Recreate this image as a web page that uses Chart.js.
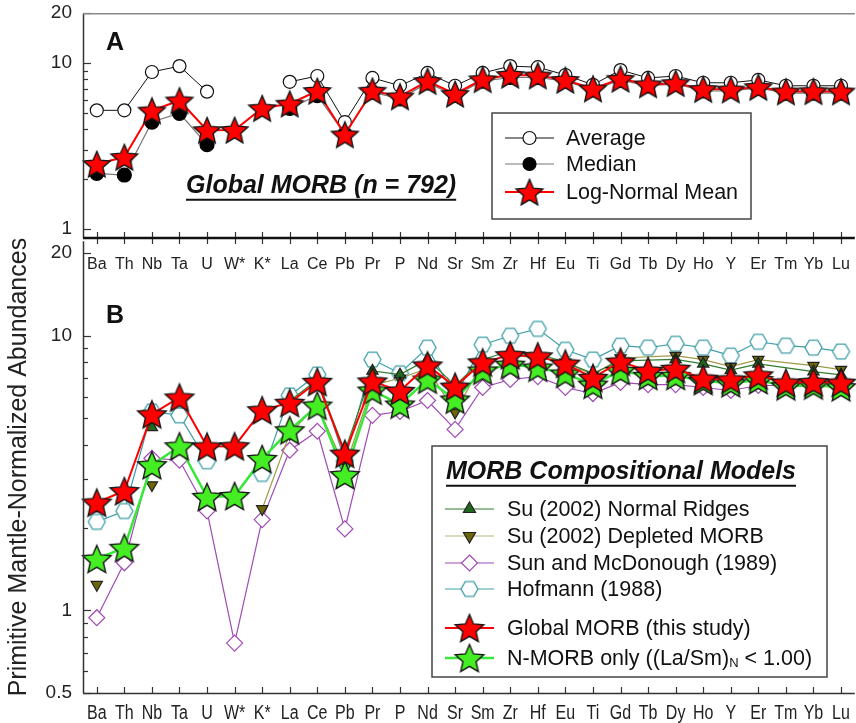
<!DOCTYPE html>
<html>
<head>
<meta charset="utf-8">
<script src="https://cdn.jsdelivr.net/npm/chart.js@4/dist/chart.umd.min.js"></script>
<style>
  html, body { margin: 0; padding: 0; background: #fff; overflow: hidden; }
  #wrap { position: relative; width: 856px; height: 723px; overflow: hidden; }
  canvas { position: absolute; left: 0; }
  #chart-a { top: 0; }
  #chart-b { top: 228px; }
</style>
</head>
<body>
<div id="wrap">
  <canvas id="chart-a" width="868" height="290"></canvas>
  <canvas id="chart-b" width="868" height="495"></canvas>
</div>
<script>
// ─── Data ───────────────────────────────────────────────────

const ELEMENTS = ['Ba', 'Th', 'Nb', 'Ta', 'U', 'W*', 'K*', 'La', 'Ce', 'Pb', 'Pr', 'P', 'Nd', 'Sr',
  'Sm', 'Zr', 'Hf', 'Eu', 'Ti', 'Gd', 'Tb', 'Dy', 'Ho', 'Y', 'Er', 'Tm', 'Yb', 'Lu'];

// Panel A — global MORB statistics
const AVERAGE = [5.20, 5.20, 8.85, 9.60, 6.74, null, null, 7.72, 8.37, 4.42, 8.15, 7.31, 8.73, 7.31,
  8.73, 9.60, 9.46, 8.49, 7.41, 9.09, 8.15, 8.37, 7.62, 7.62, 7.93, 7.31, 7.31, 7.31];
const MEDIAN = [2.17, 2.12, 4.42, 4.99, 3.23, null, null, 5.34, 6.38, 3.75, 6.70, 6.10, 7.60, 6.40,
  7.80, 8.20, 8.20, 7.80, 6.90, 7.90, 7.30, 7.50, 6.80, 6.80, 7.10, 6.60, 6.60, 6.60];
const GLOBAL_MORB = [2.47, 2.72, 5.18, 5.96, 3.95, 3.96, 5.36, 5.70, 6.80, 3.72, 6.82, 6.30, 7.80, 6.53,
  8.00, 8.50, 8.42, 7.92, 7.03, 8.05, 7.45, 7.58, 6.98, 6.93, 7.18, 6.75, 6.78, 6.75];

// Panel B — compositional models
const N_MORB = [1.54, 1.69, 3.38, 3.96, 2.59, 2.61, 3.56, 4.53, 5.57, 3.11, 6.32, 5.62, 6.93, 5.86,
  7.47, 7.85, 7.66, 7.28, 6.64, 7.45, 7.15, 7.15, 6.85, 6.72, 6.90, 6.55, 6.60, 6.50];
const SU_NORMAL = [2.35, null, 4.64, null, null, null, null, 5.80, 6.90, 3.80, 7.45, 7.22, 8.20, 6.60,
  8.20, 8.80, 8.60, 8.00, 7.30, 8.10, null, 8.20, 7.90, 7.50, 7.90, null, 7.40, 7.20];
const SU_DEPLETED = [1.24, null, 2.86, null, null, null, 2.34, 4.40, 5.60, 3.30, 6.60, 7.00, 7.60, 5.26,
  8.00, 8.50, 8.30, 8.00, 7.20, 8.30, null, 8.47, 8.19, 7.72, 8.19, null, 7.78, 7.53];
const SUN_MCDONOUGH = [0.94, 1.49, 3.58, 3.52, 2.30, 0.76, 2.14, 3.83, 4.49, 1.98, 5.13, 5.30, 5.81, 4.56,
  6.48, 6.93, 7.10, 6.48, 6.16, 6.76, 6.64, 6.64, 6.48, 6.32, 6.59, 6.60, 6.85, 6.70];
const HOFMANN = [2.10, 2.30, 5.30, 5.13, 3.49, null, 3.14, 6.06, 7.22, 3.50, 8.19, 7.30, 9.05, 6.00,
  9.28, 10.0, 10.6, 8.89, 8.19, 9.20, 9.05, 9.35, 9.05, 8.47, 9.51, 9.20, 9.05, 8.76];

// Axis ticks
const TICKS_A = [1, 2, 3, 4, 5, 6, 7, 8, 9, 10, 20];
const LABELS_A = [1, 10, 20];
const TICKS_B = [0.5, 0.6, 0.7, 0.8, 0.9, 1, 2, 3, 4, 5, 6, 7, 8, 9, 10, 20];
const LABELS_B = [0.5, 1, 10, 20];

// ─── Markers ────────────────────────────────────────────────

const FONT = '"Liberation Sans", Arial, sans-serif';
const LEGEND_SIZE = 21.5;

function makeStar(fill, R) {
  const size = Math.ceil(R * 2 + 4);
  const c = document.createElement('canvas');
  c.width = c.height = size;
  const g = c.getContext('2d');
  g.translate(size / 2, size / 2 + R * 0.1);
  g.beginPath();
  for (let i = 0; i < 10; i++) {
    const rad = i % 2 ? R * 0.46 : R;
    const a = -Math.PI / 2 + i * Math.PI / 5;
    g.lineTo(rad * Math.cos(a), rad * Math.sin(a));
  }
  g.closePath();
  g.fillStyle = fill;
  g.fill();
  g.strokeStyle = '#151515';
  g.lineWidth = 1.4;
  g.stroke();
  return c;
}

function makeHexagon(stroke, R) {
  const size = Math.ceil(R * 2 + 4);
  const c = document.createElement('canvas');
  c.width = c.height = size;
  const g = c.getContext('2d');
  g.translate(size / 2, size / 2);
  g.beginPath();
  for (let i = 0; i < 6; i++) {
    const a = i * Math.PI / 3;
    g.lineTo(R * Math.cos(a), R * Math.sin(a));
  }
  g.closePath();
  g.fillStyle = '#fff';
  g.fill();
  g.strokeStyle = stroke;
  g.lineWidth = 1.3;
  g.stroke();
  return c;
}

const RED_STAR_A = makeStar('#ff0000', 14);
const RED_STAR_B = makeStar('#ff0000', 15);
const GREEN_STAR = makeStar('#44ee22', 15);
const HEXAGON = makeHexagon('#3f9fa7', 8.5);

const C_SU_N = '#2f7d2f';
const C_SU_D = '#9f9b4a';
const C_SM = '#a04cb4';
const C_HOF = '#3f9fa7';
const C_NMORB = '#38e838';

function legendMarker(ctx, m, x, y) {
  if (m.image) {
    ctx.drawImage(m.image, x - m.image.width / 2, y - m.image.height / 2);
    return;
  }
  const r = m.r;
  ctx.save();
  ctx.fillStyle = m.fill;
  ctx.strokeStyle = m.stroke;
  ctx.lineWidth = 1.2;
  ctx.beginPath();
  if (m.shape === 'circle') ctx.arc(x, y, r, 0, Math.PI * 2);
  if (m.shape === 'up') { ctx.moveTo(x, y - r); ctx.lineTo(x + r * 0.866, y + r / 2); ctx.lineTo(x - r * 0.866, y + r / 2); }
  if (m.shape === 'down') { ctx.moveTo(x, y + r); ctx.lineTo(x + r * 0.866, y - r / 2); ctx.lineTo(x - r * 0.866, y - r / 2); }
  if (m.shape === 'diamond') { ctx.moveTo(x, y - r); ctx.lineTo(x + r, y); ctx.lineTo(x, y + r); ctx.lineTo(x - r, y); }
  ctx.closePath();
  ctx.fill();
  ctx.stroke();
  ctx.restore();
}

function drawLegendRow(ctx, item, y, x0, x1, textX) {
  ctx.save();
  ctx.strokeStyle = item.line;
  ctx.lineWidth = item.lw;
  ctx.beginPath();
  ctx.moveTo(x0, y);
  ctx.lineTo(x1, y);
  ctx.stroke();
  ctx.restore();
  legendMarker(ctx, item.marker, (x0 + x1) / 2, y);
  ctx.fillStyle = '#111';
  ctx.font = `${LEGEND_SIZE}px ${FONT}`;
  ctx.textBaseline = 'middle';
  ctx.textAlign = 'left';
  ctx.fillText(item.text, textX, y + 1);
}

function underlinedTitle(ctx, text, x, y, size) {
  ctx.fillStyle = '#111';
  ctx.font = `italic bold ${size}px ${FONT}`;
  ctx.textBaseline = 'middle';
  ctx.textAlign = 'left';
  ctx.fillText(text, x, y);
  const w = ctx.measureText(text).width;
  ctx.strokeStyle = '#111';
  ctx.lineWidth = 2;
  ctx.beginPath();
  ctx.moveTo(x, y + size * 0.55);
  ctx.lineTo(x + w, y + size * 0.55);
  ctx.stroke();
}

// ─── Frame / ticks ──────────────────────────────────────────

function drawFrame(chart, labeled, xUp, xDown) {
  const { ctx, chartArea: a, scales } = chart;
  const y = scales.y;
  const x = scales.x;
  ctx.save();
  ctx.strokeStyle = '#333';
  ctx.lineWidth = 1.2;
  y.ticks.forEach(t => {
    const py = Math.round(y.getPixelForValue(t.value)) + 0.5;
    const len = labeled.includes(t.value) ? 8 : 5;
    ctx.beginPath();
    ctx.moveTo(a.left, py);
    ctx.lineTo(a.left + len, py);
    ctx.stroke();
  });
  ELEMENTS.forEach((e, i) => {
    const px = Math.round(x.getPixelForValue(i)) + 0.5;
    ctx.beginPath();
    ctx.moveTo(px, a.bottom - xUp);
    ctx.lineTo(px, a.bottom + xDown);
    ctx.stroke();
  });
  ctx.lineWidth = 1.5;
  ctx.beginPath();
  ctx.moveTo(a.left + 0.5, a.top);
  ctx.lineTo(a.left + 0.5, a.bottom);
  ctx.stroke();
  ctx.restore();
}

const decorA = {
  id: 'decorA',
  afterDraw(chart) {
    const { ctx, chartArea: a } = chart;
    drawFrame(chart, LABELS_A, 6, 6);
    ctx.save();
    ctx.strokeStyle = '#888';
    ctx.lineWidth = 1.5;
    ctx.beginPath();
    ctx.moveTo(a.left, a.top + 0.5);
    ctx.lineTo(a.right, a.top + 0.5);
    ctx.stroke();
    ctx.strokeStyle = '#111';
    ctx.lineWidth = 2.5;
    ctx.beginPath();
    ctx.moveTo(a.left, a.bottom);
    ctx.lineTo(a.right, a.bottom);
    ctx.stroke();

    ctx.fillStyle = '#111';
    ctx.font = `bold 25px ${FONT}`;
    ctx.textBaseline = 'middle';
    ctx.fillText('A', 106, 43);
    underlinedTitle(ctx, 'Global MORB (n = 792)', 186, 186, 25);

    ctx.fillStyle = '#fff';
    ctx.fillRect(492, 113, 259, 106);
    ctx.strokeStyle = '#444';
    ctx.lineWidth = 1.5;
    ctx.strokeRect(492, 113, 259, 106);
    const rows = [
      { text: 'Average', line: '#111', lw: 1, marker: { shape: 'circle', r: 6.5, fill: '#fff', stroke: '#111' } },
      { text: 'Median', line: '#777', lw: 1.2, marker: { shape: 'circle', r: 6.5, fill: '#000', stroke: '#000' } },
      { text: 'Log-Normal Mean', line: '#ff0000', lw: 2, marker: { image: RED_STAR_A } },
    ];
    [138, 164, 192].forEach((yy, i) => drawLegendRow(ctx, rows[i], yy, 505, 554, 566));
    ctx.restore();
  },
};

const decorB = {
  id: 'decorB',
  afterDraw(chart) {
    const { ctx, chartArea: a, scales } = chart;
    drawFrame(chart, LABELS_B, 6, 0);
    ctx.save();
    ctx.strokeStyle = '#333';
    ctx.lineWidth = 1.5;
    ctx.beginPath();
    ctx.moveTo(a.left, a.bottom + 0.5);
    ctx.lineTo(a.right, a.bottom + 0.5);
    ctx.stroke();

    // condensed category labels under panel B
    ctx.fillStyle = '#222';
    ctx.font = `20px ${FONT}`;
    ctx.textAlign = 'center';
    ctx.textBaseline = 'middle';
    ELEMENTS.forEach((e, i) => {
      const px = scales.x.getPixelForValue(i);
      ctx.save();
      ctx.translate(px, a.bottom + 20);
      ctx.scale(0.8, 1);
      ctx.fillText(e, 0, 0);
      ctx.restore();
    });

    // page coordinates from here on
    ctx.translate(0, -228);
    ctx.textAlign = 'left';
    ctx.fillStyle = '#111';
    ctx.font = `bold 25px ${FONT}`;
    ctx.fillText('B', 106, 316);

    const bx = 432, by = 446;
    ctx.fillStyle = '#fff';
    ctx.fillRect(bx, by, 395, 231);
    ctx.strokeStyle = '#444';
    ctx.lineWidth = 1.5;
    ctx.strokeRect(bx, by, 395, 231);
    underlinedTitle(ctx, 'MORB Compositional Models', 446, 472, 25);

    const rows = [
      { text: 'Su (2002) Normal Ridges', line: C_SU_N, lw: 1.2, marker: { shape: 'up', r: 7, fill: '#1f6a1f', stroke: '#222' } },
      { text: 'Su (2002) Depleted MORB', line: '#b9b67a', lw: 1.2, marker: { shape: 'down', r: 7, fill: '#6b6608', stroke: '#222' } },
      { text: 'Sun and McDonough (1989)', line: C_SM, lw: 1.2, marker: { shape: 'diamond', r: 8, fill: '#fff', stroke: C_SM } },
      { text: 'Hofmann (1988)', line: C_HOF, lw: 1.2, marker: { image: HEXAGON } },
      { text: 'Global MORB (this study)', line: '#ff0000', lw: 2, marker: { image: RED_STAR_B } },
    ];
    [509, 536, 563, 589, 628].forEach((yy, i) => drawLegendRow(ctx, rows[i], yy, 445, 494, 507));

    // last row has a subscript
    const ly = 658;
    const head = 'N-MORB only ((La/Sm)';
    drawLegendRow(ctx, { text: head, line: C_NMORB, lw: 2.5, marker: { image: GREEN_STAR } }, ly, 445, 494, 507);
    ctx.font = `${LEGEND_SIZE}px ${FONT}`;
    let tx = 507 + ctx.measureText(head).width;
    ctx.font = `13px ${FONT}`;
    ctx.fillText('N', tx, ly + 5);
    tx += ctx.measureText('N').width;
    ctx.font = `${LEGEND_SIZE}px ${FONT}`;
    ctx.fillText(' < 1.00)', tx, ly + 1);
    ctx.restore();
  },
};

// ─── Axes ───────────────────────────────────────────────────

function yAxis(min, max, ticks, labeled, title) {
  return {
    type: 'logarithmic',
    min,
    max,
    afterBuildTicks: s => { s.ticks = ticks.map(v => ({ value: v })); },
    afterFit: s => {
      s.width = 83;
      s.paddingTop = 0;
      s.paddingBottom = 0;
    },
    grid: { display: false, drawTicks: false },
    border: { display: false },
    ticks: {
      autoSkip: false,
      padding: 11,
      color: '#222',
      font: { family: FONT, size: 19 },
      callback: v => (labeled.includes(v) ? String(v) : ''),
    },
    title: {
      display: !!title,
      text: title || '',
      color: '#222',
      font: { family: FONT, size: 25 },
      padding: { top: 4, bottom: 0 },
    },
  };
}

function xAxis(height, showLabels) {
  return {
    type: 'category',
    labels: ELEMENTS,
    offset: true,
    afterFit: s => { s.height = height; },
    grid: { display: false, drawTicks: false },
    border: { display: false },
    ticks: {
      display: showLabels, autoSkip: false, maxRotation: 0, minRotation: 0, padding: 17,
      color: '#222', font: { family: FONT, size: 16 },
    },
  };
}

function line(label, data, color, width, point) {
  return Object.assign({
    label,
    data,
    borderColor: color,
    borderWidth: width,
    tension: 0,
    spanGaps: false,
    clip: false,
    pointBorderWidth: 1.2,
  }, point);
}

// Su (2002): the first isolated points are not joined; the line starts at `from`
function joinFrom(from) {
  return { borderColor: ctx => (ctx.p1DataIndex <= from ? 'rgba(0,0,0,0)' : undefined) };
}

const baseOptions = {
  responsive: false,
  animation: false,
  devicePixelRatio: 1,
  layout: { padding: { top: 10, right: 5, left: 0, bottom: 0 } },
  plugins: { legend: { display: false }, tooltip: { enabled: false } },
};

// ─── Panel A ────────────────────────────────────────────────

new Chart(document.getElementById('chart-a'), {
  type: 'line',
  data: {
    labels: ELEMENTS,
    datasets: [
      line('Log-Normal Mean', GLOBAL_MORB, '#ff0000', 2, { pointStyle: RED_STAR_A, pointRadius: 12 }),
      line('Average', AVERAGE, '#111', 1, {
        pointStyle: 'circle', pointRadius: 6.5, pointBackgroundColor: '#fff', pointBorderColor: '#111',
      }),
      line('Median', MEDIAN, '#777', 1.2, {
        pointStyle: 'circle', pointRadius: 7, pointBackgroundColor: '#000', pointBorderColor: '#000',
      }),
    ],
  },
  options: {
    ...baseOptions,
    scales: {
      x: xAxis(52, true),
      y: yAxis(0.885, 20, TICKS_A, LABELS_A, null),
    },
  },
  plugins: [decorA],
});

// ─── Panel B ────────────────────────────────────────────────

new Chart(document.getElementById('chart-b'), {
  type: 'line',
  data: {
    labels: ELEMENTS,
    datasets: [
      line('Global MORB (this study)', GLOBAL_MORB, '#ff0000', 2, { pointStyle: RED_STAR_B, pointRadius: 12 }),
      line('N-MORB only', N_MORB, C_NMORB, 2.5, { pointStyle: GREEN_STAR, pointRadius: 12 }),
      line('Su (2002) Normal Ridges', SU_NORMAL, C_SU_N, 1.2, {
        pointStyle: 'triangle', pointRadius: 6.5, pointBackgroundColor: '#1f6a1f', pointBorderColor: '#222',
        spanGaps: true, segment: joinFrom(7),
      }),
      line('Su (2002) Depleted MORB', SU_DEPLETED, C_SU_D, 1.2, {
        pointStyle: 'triangle', pointRotation: 180, pointRadius: 6.5, pointBackgroundColor: '#6b6608',
        pointBorderColor: '#222', spanGaps: true, segment: joinFrom(6),
      }),
      line('Hofmann (1988)', HOFMANN, C_HOF, 1.2, { pointStyle: HEXAGON, pointRadius: 8 }),
      line('Sun and McDonough (1989)', SUN_MCDONOUGH, C_SM, 1.2, {
        pointStyle: 'rectRot', pointRadius: 8, pointBackgroundColor: '#fff', pointBorderColor: C_SM,
      }),
    ],
  },
  options: {
    ...baseOptions,
    scales: {
      x: xAxis(30, false),
      y: yAxis(0.5, 22.1, TICKS_B, LABELS_B, 'Primitive Mantle-Normalized Abundances'),
    },
  },
  plugins: [decorB],
});
</script>
</body>
</html>
